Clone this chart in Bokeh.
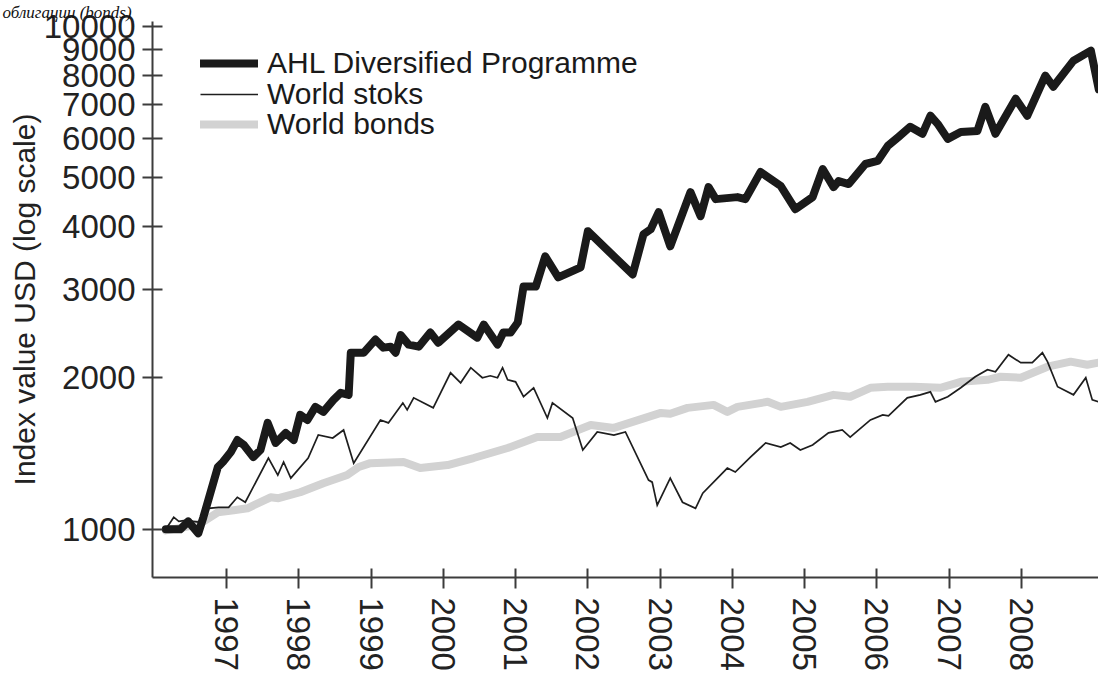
from bokeh.plotting import figure
from bokeh.models import FixedTicker, Legend, LegendItem, Range1d
from bokeh.embed import file_html
from bokeh.resources import INLINE

# ---------------- data ----------------
ahl_years = [1996.16, 1996.36, 1996.47, 1996.61, 1996.68, 1996.88, 1996.95, 1997.06, 1997.15, 1997.24,
             1997.37, 1997.47, 1997.57, 1997.68, 1997.82, 1997.93, 1998.02, 1998.12, 1998.23, 1998.34,
             1998.48, 1998.58, 1998.69, 1998.72, 1998.90, 1999.06, 1999.17, 1999.27, 1999.34, 1999.41,
             1999.52, 1999.66, 1999.82, 1999.93, 2000.21, 2000.47, 2000.56, 2000.75, 2000.83, 2000.93,
             2001.03, 2001.11, 2001.28, 2001.41, 2001.59, 2001.90, 2002.00, 2002.62, 2002.77, 2002.87,
             2002.98, 2003.14, 2003.42, 2003.56, 2003.67, 2003.77, 2004.07, 2004.18, 2004.39, 2004.67,
             2004.87, 2005.11, 2005.25, 2005.40, 2005.47, 2005.61, 2005.84, 2006.01, 2006.15, 2006.30,
             2006.46, 2006.63, 2006.74, 2006.84, 2006.98, 2007.16, 2007.39, 2007.50, 2007.64, 2007.92,
             2008.08, 2008.33, 2008.44, 2008.72, 2008.96, 2009.07]
ahl_values = [1000, 1000, 1037, 982, 1057, 1330, 1361, 1425, 1505, 1471,
              1392, 1438, 1628, 1485, 1555, 1505, 1689, 1650, 1752, 1712,
              1809, 1868, 1851, 2245, 2245, 2384, 2298, 2308, 2245, 2435,
              2330, 2308, 2462, 2351, 2554, 2406, 2554, 2330, 2462, 2462,
              2578, 3041, 3041, 3491, 3170, 3320, 3916, 3213, 3862, 3952,
              4273, 3655, 4684, 4195, 4793, 4536, 4578, 4536, 5135, 4816,
              4332, 4578, 5207, 4793, 4927, 4860, 5328, 5402, 5788, 6033,
              6316, 6117, 6645, 6404, 5977, 6171, 6200, 6924, 6117, 7184,
              6645, 7983, 7591, 8552, 8955, 7500]

stocks_years = [1996.16, 1996.27, 1996.34, 1996.43, 1996.54, 1996.64, 1996.75, 1996.89, 1997.03, 1997.15,
                1997.26, 1997.58, 1997.71, 1997.79, 1997.89, 1998.13, 1998.27, 1998.47, 1998.62, 1998.76,
                1999.13, 1999.24, 1999.44, 1999.50, 1999.59, 1999.86, 2000.10, 2000.24, 2000.38, 2000.54,
                2000.65, 2000.75, 2000.82, 2000.89, 2001.00, 2001.11, 2001.25, 2001.44, 2001.51, 2001.79,
                2001.93, 2002.13, 2002.36, 2002.52, 2002.84, 2002.89, 2002.96, 2003.14, 2003.31, 2003.49,
                2003.59, 2003.93, 2004.04, 2004.25, 2004.46, 2004.67, 2004.80, 2004.94, 2005.11, 2005.33,
                2005.52, 2005.63, 2005.91, 2006.08, 2006.16, 2006.42, 2006.60, 2006.74, 2006.81, 2006.98,
                2007.16, 2007.36, 2007.53, 2007.64, 2007.82, 2007.99, 2008.15, 2008.29, 2008.36, 2008.50,
                2008.72, 2008.89, 2008.98, 2009.07]
stocks_values = [1000, 1057, 1037, 1042, 1037, 1033, 1101, 1106, 1106, 1158,
                 1132, 1386, 1282, 1361, 1264, 1386, 1540, 1519, 1576, 1354,
                 1650, 1628, 1784, 1728, 1826, 1744, 2048, 1956, 2096, 2002,
                 2020, 2002, 2096, 1983, 1965, 1835, 1912, 1665, 1784, 1665,
                 1438, 1562, 1540, 1562, 1253, 1241, 1117, 1264, 1132, 1101,
                 1180, 1324, 1300, 1392, 1485, 1458, 1485, 1438, 1471, 1555,
                 1576, 1526, 1650, 1689, 1681, 1826, 1851, 1877, 1793, 1835,
                 1912, 2011, 2077, 2058, 2225, 2145, 2145, 2245, 2155, 1921,
                 1851, 2002, 1809, 1793]

bonds_years = [1996.16, 1996.41, 1996.64, 1996.88, 1997.10, 1997.29, 1997.61, 1997.72, 1998.02, 1998.34,
               1998.67, 1998.83, 1998.99, 1999.45, 1999.68, 2000.06, 2000.42, 2000.89, 2001.30, 2001.62,
               2002.04, 2002.36, 2003.01, 2003.14, 2003.38, 2003.74, 2003.93, 2004.07, 2004.49, 2004.67,
               2005.04, 2005.40, 2005.63, 2005.91, 2006.15, 2006.51, 2006.88, 2007.16, 2007.53, 2007.71,
               2007.99, 2008.36, 2008.68, 2008.91, 2009.07]
bonds_values = [995, 1009, 1028, 1081, 1091, 1101, 1158, 1153, 1185, 1235,
                1282, 1330, 1354, 1361, 1324, 1342, 1386, 1451, 1526, 1526,
                1613, 1591, 1704, 1697, 1744, 1768, 1712, 1752, 1793, 1752,
                1793, 1851, 1835, 1912, 1921, 1921, 1912, 1965, 1983, 2011,
                2002, 2106, 2155, 2125, 2145]

series_names = ["AHL Diversified Programme", "World stoks", "World bonds"]
x_ticks = [1997, 1998, 1999, 2000, 2001, 2002, 2003, 2004, 2005, 2006, 2007, 2008]
x_tick_labels = ["1997", "1998", "1999", "2000", "2001", "2002", "2003", "2004", "2005", "2006", "2007", "2008"]
y_ticks = [1000, 2000, 3000, 4000, 5000, 6000, 7000, 8000, 9000, 10000]
y_tick_labels = ["1000", "2000", "3000", "4000", "5000", "6000", "7000", "8000", "9000", "10000"]
y_axis_title = "Index value USD (log scale)"
top_caption = "облигации (bonds)"

# ---------------- figure ----------------
FONT = "Liberation Sans"
p = figure(width=1098, height=677, y_axis_type="log",
           x_range=Range1d(1995.976, 2009.066), y_range=Range1d(802, 10232),
           output_backend="svg", toolbar_location=None,
           min_border_left=152, min_border_right=0, min_border_top=20, min_border_bottom=100)
p.outline_line_color = None
p.xgrid.visible = False
p.ygrid.visible = False
p.background_fill_color = "white"
p.border_fill_color = "white"

p.title.text = top_caption
p.title.text_font = "Liberation Serif"
p.title.text_font_style = "italic"
p.title.text_font_size = "17px"
p.title.text_color = "#111111"
p.title.align = "left"
p.title.offset = -150
p.title.standoff = 0

r_bonds = p.line(bonds_years, bonds_values, line_width=8, line_color="#d2d2d2",
                 line_join="round", line_cap="round")
r_stocks = p.line(stocks_years, stocks_values, line_width=1.7, line_color="#1e1e1e",
                  line_join="miter")
r_ahl = p.line(ahl_years, ahl_values, line_width=8, line_color="#1a1a1a",
               line_join="round", line_cap="round")

axis_color = "#3c3c3c"
for ax in (p.xaxis[0], p.yaxis[0]):
    ax.axis_line_color = axis_color
    ax.axis_line_width = 2
    ax.major_tick_line_color = axis_color
    ax.major_tick_line_width = 2
    ax.minor_tick_in = 0
    ax.minor_tick_out = 0
    ax.major_label_text_font = FONT
    ax.major_label_text_font_size = "33px"
    ax.major_label_text_color = "#222222"

p.yaxis.ticker = FixedTicker(ticks=y_ticks, minor_ticks=[])
p.yaxis.major_label_overrides = {t: l for t, l in zip(y_ticks, y_tick_labels)}
p.yaxis.major_tick_in = 10
p.yaxis.major_tick_out = 10
p.yaxis.major_label_standoff = 7
p.yaxis.axis_label = y_axis_title
p.yaxis.axis_label_text_font = FONT
p.yaxis.axis_label_text_font_size = "30px"
p.yaxis.axis_label_text_font_style = "normal"
p.yaxis.axis_label_text_color = "#222222"
p.yaxis.axis_label_standoff = 0

p.xaxis.ticker = FixedTicker(ticks=x_ticks, minor_ticks=[])
p.xaxis.major_label_overrides = {t: l for t, l in zip(x_ticks, x_tick_labels)}
p.xaxis.major_label_orientation = "vertical"
p.xaxis.major_tick_in = 9
p.xaxis.major_tick_out = 11
p.xaxis.major_label_standoff = 9

# one legend per row so that the rows sit as tightly as in the picture
legend_rows = [(series_names[0], r_ahl, 497), (series_names[1], r_stocks, 466), (series_names[2], r_bonds, 436)]
for name, rend, vy in legend_rows:
    lg = Legend(items=[LegendItem(label=name, renderers=[rend])],
                location=(48, vy), orientation="vertical",
                label_text_font=FONT, label_text_font_size="30px", label_text_color="#1a1a1a",
                glyph_width=58, glyph_height=20, label_height=20, label_standoff=9,
                spacing=0, padding=0, margin=0,
                border_line_color=None, background_fill_alpha=0)
    p.add_layout(lg, "center")

open("out.html", "w").write(file_html(p, INLINE))
